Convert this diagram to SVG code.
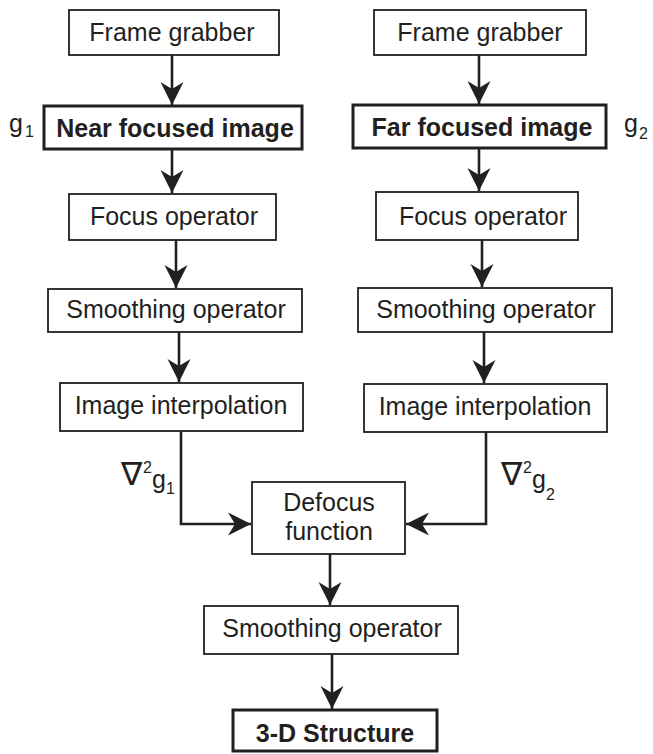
<svg xmlns="http://www.w3.org/2000/svg" width="653" height="754" viewBox="0 0 653 754">
<style>
  .box { fill: #fff; stroke: #231f20; stroke-width: 1.8; }
  .bold { fill: #fff; stroke: #231f20; stroke-width: 3; }
  .t { font-family: "Liberation Sans", Arial, Helvetica, sans-serif; font-size: 25px; fill: #231f20; text-anchor: middle; }
  .tb { font-family: "Liberation Sans", Arial, Helvetica, sans-serif; font-size: 25px; font-weight: bold; fill: #231f20; text-anchor: middle; }
  .lab { font-family: "Liberation Sans", Arial, Helvetica, sans-serif; font-size: 25px; fill: #231f20; }
  .sub { font-family: "Liberation Sans", Arial, Helvetica, sans-serif; font-size: 16px; fill: #231f20; }
  .nab { font-family: "DejaVu Sans", "Liberation Sans", sans-serif; font-size: 32px; fill: #231f20; }
  .c { fill: none; stroke: #231f20; stroke-width: 2.6; }
</style>
<defs>
  <marker id="ah" markerUnits="userSpaceOnUse" markerWidth="30" markerHeight="30" viewBox="-25 -15 30 30" refX="0" refY="0" orient="auto">
    <path d="M0,0 L-23,-11.5 L-16,0 L-23,11.5 Z" fill="#231f20"/>
  </marker>
</defs>

<g id="connectors">
  <line class="c" x1="172" y1="55" x2="172" y2="105" marker-end="url(#ah)"/>
  <line class="c" x1="172" y1="149" x2="172" y2="193" marker-end="url(#ah)"/>
  <line class="c" x1="176" y1="240" x2="176" y2="288" marker-end="url(#ah)"/>
  <line class="c" x1="179" y1="332" x2="179" y2="382" marker-end="url(#ah)"/>
  <polyline class="c" points="181,431 181,524 251,524" marker-end="url(#ah)"/>
  <line class="c" x1="479" y1="55" x2="479" y2="104" marker-end="url(#ah)"/>
  <line class="c" x1="479" y1="148" x2="479" y2="191" marker-end="url(#ah)"/>
  <line class="c" x1="482" y1="240" x2="482" y2="287" marker-end="url(#ah)"/>
  <line class="c" x1="484" y1="332" x2="484" y2="383" marker-end="url(#ah)"/>
  <polyline class="c" points="486,432 486,524 406,524" marker-end="url(#ah)"/>
  <line class="c" x1="330" y1="554" x2="330" y2="605" marker-end="url(#ah)"/>
  <line class="c" x1="332" y1="654" x2="332" y2="709" marker-end="url(#ah)"/>
</g>

<g id="frame-grabber-left">
  <rect class="box" x="69" y="10" width="210" height="45"/>
  <text class="t" x="172" y="41">Frame grabber</text>
</g>
<g id="near-focused-image">
  <rect class="bold" x="44" y="106" width="258" height="43"/>
  <text class="tb" x="175" y="137">Near focused image</text>
  <text class="lab" x="9" y="132">g</text>
  <text class="sub" x="25" y="137">1</text>
</g>
<g id="focus-operator-left">
  <rect class="box" x="69" y="194" width="207" height="46"/>
  <text class="t" x="174" y="225">Focus operator</text>
</g>
<g id="smoothing-operator-left">
  <rect class="box" x="48" y="289" width="254" height="43"/>
  <text class="t" x="176" y="318">Smoothing operator</text>
</g>
<g id="image-interpolation-left">
  <rect class="box" x="60" y="383" width="243" height="48"/>
  <text class="t" x="181" y="414">Image interpolation</text>
</g>
<g id="label-g1">
  <text class="nab" x="121" y="485">∇</text>
  <text class="sub" x="143" y="473">2</text>
  <text class="lab" x="152" y="488">g</text>
  <text class="sub" x="166" y="494">1</text>
</g>

<g id="frame-grabber-right">
  <rect class="box" x="374" y="10" width="212" height="45"/>
  <text class="t" x="480" y="41">Frame grabber</text>
</g>
<g id="far-focused-image">
  <rect class="bold" x="353" y="105" width="253" height="43"/>
  <text class="tb" x="482" y="136">Far focused image</text>
  <text class="lab" x="624" y="132">g</text>
  <text class="sub" x="639" y="139">2</text>
</g>
<g id="focus-operator-right">
  <rect class="box" x="376" y="192" width="202" height="48"/>
  <text class="t" x="483" y="225">Focus operator</text>
</g>
<g id="smoothing-operator-right">
  <rect class="box" x="358" y="288" width="254" height="44"/>
  <text class="t" x="486" y="318">Smoothing operator</text>
</g>
<g id="image-interpolation-right">
  <rect class="box" x="364" y="384" width="243" height="48"/>
  <text class="t" x="485" y="415">Image interpolation</text>
</g>
<g id="label-g2">
  <text class="nab" x="501" y="485">∇</text>
  <text class="sub" x="523" y="473">2</text>
  <text class="lab" x="532" y="488">g</text>
  <text class="sub" x="546" y="500">2</text>
</g>

<g id="defocus-function">
  <rect class="box" x="252" y="482" width="153" height="72"/>
  <text class="t" x="329" y="511">Defocus</text>
  <text class="t" x="329" y="540">function</text>
</g>
<g id="smoothing-operator-bottom">
  <rect class="box" x="204" y="606" width="254" height="48"/>
  <text class="t" x="332" y="637">Smoothing operator</text>
</g>
<g id="structure-3d">
  <rect class="bold" x="233" y="710" width="204" height="41"/>
  <text class="tb" x="335" y="742">3-D Structure</text>
</g>
</svg>
